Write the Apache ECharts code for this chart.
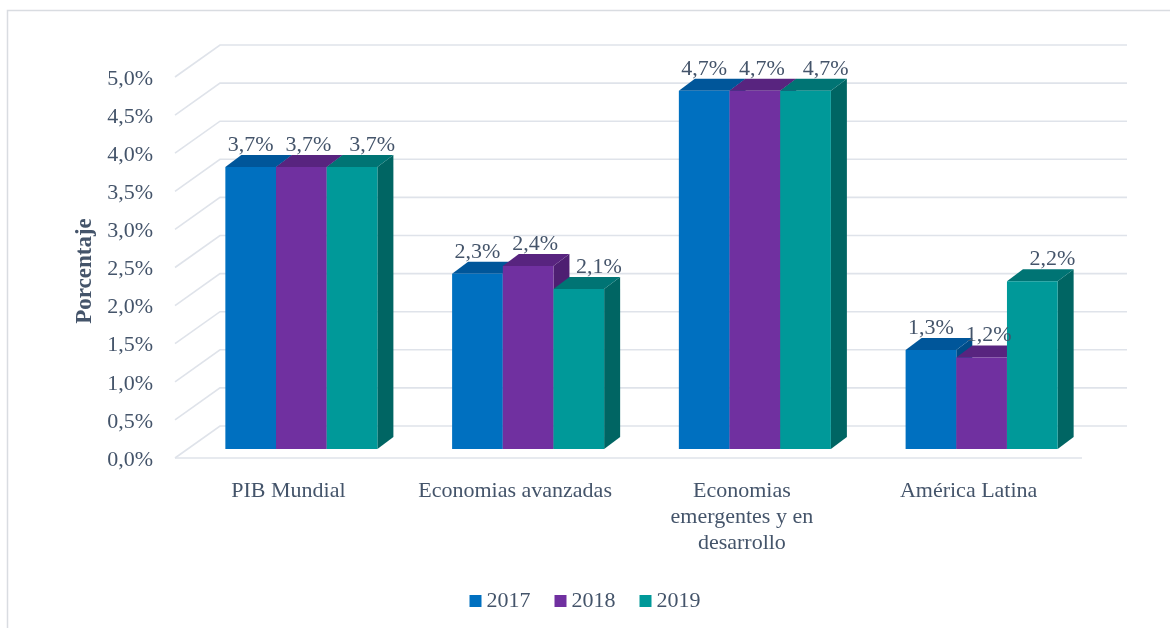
<!DOCTYPE html>
<html>
<head>
<meta charset="utf-8">
<script src="https://cdn.jsdelivr.net/npm/echarts@6/dist/echarts.min.js"></script>
<style>
html,body{margin:0;padding:0;background:#fff;}
#chart{width:1170px;height:628px;}
</style>
</head>
<body>
<div id="chart"></div>
<script>
var categories = ['PIB Mundial', 'Economias avanzadas', 'Economias\nemergentes y en\ndesarrollo', 'América Latina'];
var years = ['2017', '2018', '2019'];
var values2017 = [3.7, 2.3, 4.7, 1.3];
var values2018 = [3.7, 2.4, 4.7, 1.2];
var values2019 = [3.7, 2.1, 4.7, 2.2];
var tickValues = [0, 0.5, 1, 1.5, 2, 2.5, 3, 3.5, 4, 4.5, 5];
var tickLabels = ['0,0%', '0,5%', '1,0%', '1,5%', '2,0%', '2,5%', '3,0%', '3,5%', '4,0%', '4,5%', '5,0%'];

var FONT = '"Liberation Serif", "Times New Roman", serif';
var TXT = '#44546A';
var faceColors = [
  {front: '#0070C0', top: '#00569A', side: '#004C88'},
  {front: '#7030A0', top: '#58247F', side: '#4E1F72'},
  {front: '#009999', top: '#007474', side: '#006563'}
];
var labelShift = [0, 7, 20];
var seriesValues = [values2017, values2018, values2019];

function fmt(v) { return v.toFixed(1).replace('.', ',') + '%'; }

function barRender(si) {
  return function (params, api) {
    var cat = api.value(0), v = api.value(1);
    var base = api.coord([cat, 0]);
    var top = api.coord([cat, v]);
    var catW = api.size([1, 0])[0];
    var bw = catW * 0.2235;
    var xl = base[0] - 1.5 * bw + si * bw;
    var xr = xl + bw;
    var dx = 16, dy = -12;
    var c = faceColors[si];
    return {
      type: 'group',
      children: [
        {type: 'polygon', shape: {points: [[xr, top[1]], [xr + dx, top[1] + dy], [xr + dx, base[1] + dy], [xr, base[1]]]}, style: {fill: c.side}},
        {type: 'polygon', shape: {points: [[xl, top[1]], [xl + dx, top[1] + dy], [xr + dx, top[1] + dy], [xr, top[1]]]}, style: {fill: c.top}},
        {type: 'rect', shape: {x: xl, y: top[1], width: bw, height: base[1] - top[1]}, style: {fill: c.front}},
        {type: 'text', style: {x: (xl + xr) / 2 + labelShift[si], y: top[1] - 22, text: fmt(v), font: '22px ' + FONT, fill: TXT, align: 'center', verticalAlign: 'middle'}, z2: 10}
      ]
    };
  };
}

function gridRender(params, api) {
  var v = api.value(0);
  var cs = params.coordSys;
  var x0 = cs.x, x1 = cs.x + cs.width;
  var y = api.coord([0, v])[1];
  var children = [{
    type: 'polyline',
    shape: {points: [[x0 - 13, y + 9], [x0 + 32, y - 23], [x1 + 32, y - 23]]},
    style: {stroke: '#DFE3EA', lineWidth: 1.6, fill: null}
  }];
  if (v === 0) {
    children.push({
      type: 'polyline',
      shape: {points: [[x0 - 13, y + 9], [x1 - 13, y + 9]]},
      style: {stroke: '#DFE3EA', lineWidth: 1.6, fill: null}
    });
  }
  return {type: 'group', children: children};
}

var series = [{
  type: 'custom',
  name: 'grid',
  renderItem: gridRender,
  data: tickValues.map(function (t) { return [t]; }),
  encode: {y: 0},
  silent: true,
  z: 1
}];
years.forEach(function (yr, si) {
  series.push({
    type: 'custom',
    name: yr,
    renderItem: barRender(si),
    itemStyle: {color: faceColors[si].front},
    data: seriesValues[si].map(function (v, i) { return [i, v]; }),
    encode: {x: 0, y: 1},
    z: 2
  });
});

var chart = echarts.init(document.getElementById('chart'), null, {renderer: 'canvas'});
chart.setOption({
  animation: false,
  backgroundColor: '#ffffff',
  grid: {left: 188, right: 75, top: 68, bottom: 179},
  xAxis: {
    type: 'category',
    data: categories,
    axisLine: {show: false},
    axisTick: {show: false},
    splitLine: {show: false},
    axisLabel: {
      interval: 0,
      margin: 29,
      color: TXT,
      fontFamily: FONT,
      fontSize: 22,
      lineHeight: 26,
      padding: [0, 26, 0, 0]
    }
  },
  yAxis: {
    type: 'value',
    min: 0,
    max: 5,
    interval: 0.5,
    axisLine: {show: false},
    axisTick: {show: false},
    splitLine: {show: false},
    axisLabel: {
      margin: 35,
      color: TXT,
      fontFamily: FONT,
      fontSize: 22,
      lineHeight: 22,
      verticalAlign: 'top',
      formatter: function (val) {
        var idx = tickValues.indexOf(Math.round(val * 10) / 10);
        return idx >= 0 ? tickLabels[idx] : '';
      }
    }
  },
  legend: {
    data: years,
    bottom: 11,
    left: 'center',
    icon: 'rect',
    itemWidth: 12,
    itemHeight: 12,
    itemGap: 24,
    textStyle: {color: TXT, fontFamily: FONT, fontSize: 22}
  },
  graphic: [
    {
      type: 'polyline',
      shape: {points: [[7.5, 628], [7.5, 10.5], [1170, 10.5]]},
      style: {stroke: '#D9DCE1', lineWidth: 1.5, fill: null},
      silent: true
    },
    {
      type: 'text',
      x: 85,
      y: 271,
      rotation: Math.PI / 2,
      style: {text: 'Porcentaje', font: 'bold 23px ' + FONT, fill: TXT, align: 'center', verticalAlign: 'middle'}
    }
  ],
  series: series
});
</script>
</body>
</html>
